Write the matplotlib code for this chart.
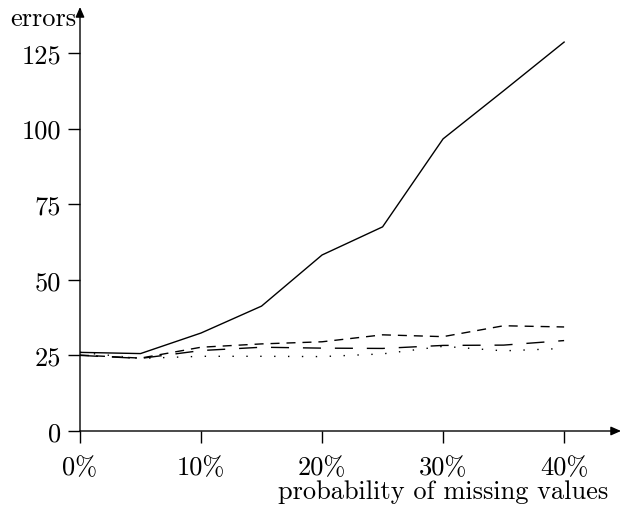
import matplotlib
matplotlib.use("Agg")
import matplotlib.pyplot as plt

x_pct = [0, 5, 10, 15, 20, 25, 30, 35, 40]
solid = [26.0, 25.6, 32.4, 41.3, 58.2, 67.5, 96.6, 112.5, 128.6]
dashed = [25.1, 24.1, 27.7, 28.8, 29.5, 31.8, 31.2, 34.8, 34.4]
longdash = [25.0, 24.0, 26.6, 27.7, 27.4, 27.3, 28.3, 28.4, 29.9]
dotted = [26.0, 24.0, 24.7, 24.7, 24.6, 25.5, 28.0, 26.5, 27.3]

yticks = [0, 25, 50, 75, 100, 125]
xticks = [0, 10, 20, 30, 40]
xticklabels = ["0%", "10%", "20%", "30%", "40%"]

plt.rcParams["font.family"] = "serif"
plt.rcParams["font.serif"] = ["cmr10", "DejaVu Serif"]
plt.rcParams["axes.formatter.use_mathtext"] = True
FS = 19

fig = plt.figure(figsize=(6.21, 5.06), dpi=100)
ax = fig.add_axes([80/621, (506-432)/506, 541/621, 424/506])
ax.set_xlim(0, 44.7)
ax.set_ylim(0, 140.2)

lw = 1.0
ax.plot(x_pct, solid, color="black", lw=lw, linestyle="-")
ax.plot(x_pct, dashed, color="black", lw=lw, linestyle=(0, (6.5, 5)))
ax.plot(x_pct, longdash, color="black", lw=lw, linestyle=(0, (13, 10)))
ax.plot(x_pct, dotted, color="black", lw=lw, linestyle=(0, (1, 9)))

for s in ["top", "right", "left", "bottom"]:
    ax.spines[s].set_visible(False)

arrow = dict(arrowstyle="-|>,head_length=0.5,head_width=0.22", color="black",
             lw=1.0, shrinkA=0, shrinkB=0, mutation_scale=12)
ax.annotate("", xy=(1, 0), xytext=(0, 0), xycoords="axes fraction",
            textcoords="axes fraction", arrowprops=arrow, annotation_clip=False)
ax.annotate("", xy=(0, 1), xytext=(0, 0), xycoords="axes fraction",
            textcoords="axes fraction", arrowprops=arrow, annotation_clip=False)

ax.set_yticks(yticks)
ax.set_yticklabels([str(v) for v in yticks], fontsize=FS)
ax.set_xticks(xticks)
ax.set_xticklabels(xticklabels, fontsize=FS)
ax.tick_params(axis="y", direction="out", length=8.6, width=1, pad=5)
ax.tick_params(axis="x", direction="out", length=8.6, width=1, pad=9)

fig.text(608/621, 1 - 492/506, "probability of missing values", ha="right", va="center", fontsize=FS)
fig.text(10/621, 1 - 19/506, "errors", ha="left", va="center", fontsize=FS)

fig.savefig("out.png", dpi=100)
